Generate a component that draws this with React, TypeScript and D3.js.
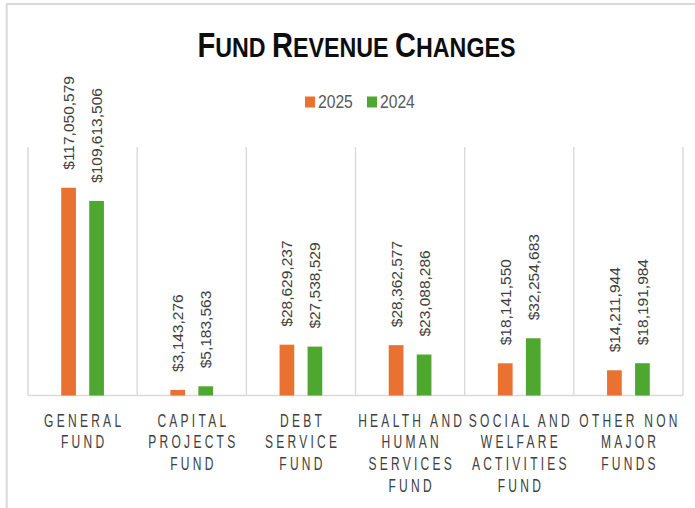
import { format, scaleBand, scaleLinear } from 'd3'

const categories = [
    'GENERAL FUND',
    'CAPITAL PROJECTS FUND',
    'DEBT SERVICE FUND',
    'HEALTH AND HUMAN SERVICES FUND',
    'SOCIAL AND WELFARE ACTIVITIES FUND',
    'OTHER NON MAJOR FUNDS'
]
const categoryLines = [
    ['GENERAL', 'FUND'],
    ['CAPITAL', 'PROJECTS', 'FUND'],
    ['DEBT', 'SERVICE', 'FUND'],
    ['HEALTH AND', 'HUMAN', 'SERVICES', 'FUND'],
    ['SOCIAL AND', 'WELFARE', 'ACTIVITIES', 'FUND'],
    ['OTHER NON', 'MAJOR', 'FUNDS']
]
const revenue2025 = [117050579, 3143276, 28629237, 28362577, 18141550, 14211944]
const revenue2024 = [109613506, 5183563, 27538529, 23088286, 32254683, 18191984]
const seriesNames = ['2025', '2024']
const seriesColors = ['#E97132', '#4EA72E']

const width = 695
const height = 508
const margin = { top: 147, right: 12, bottom: 112.5, left: 28 }
const font = '"Liberation Sans", Arial, sans-serif'
const fmt = format('$,')

export default function App() {
    const series = [revenue2025, revenue2024]

    const x = scaleBand()
        .domain(categories)
        .range([margin.left, width - margin.right])
        .padding(0)

    const bw = x.bandwidth()
    const xs = scaleBand()
        .domain(seriesNames)
        .range([bw / 2 - 28, bw / 2 + 28])
        .paddingInner(0.475)
        .paddingOuter(0.2375)

    const y = scaleLinear()
        .domain([0, 140000000])
        .range([height - margin.bottom, margin.top])

    const baseY = y(0)
    const bounds = [...categories.map(c => x(c)), x(categories[categories.length - 1]) + bw]

    const titleParts = [
        ['F', 35], ['UND ', 28], ['R', 35], ['EVENUE ', 28], ['C', 35], ['HANGES', 28]
    ]

    const legendX0 = 305
    const legendStep = 62
    const labelSpacing = 5

    return (
        <svg width={width} height={height} style={{ position: 'absolute', left: 0, top: 0, display: 'block', background: '#fff' }}>
            <rect x={6.7} y={4} width={width + 20} height={height + 20} fill="#fff" stroke="#d9d9d9" strokeWidth={2} />

            <text transform={`translate(356.5,56.7) scale(0.83,1)`} textAnchor="middle"
                fontFamily={font} fontWeight="bold" fill="#0d0d0d">
                {titleParts.map(([t, s], i) => (
                    <tspan key={i} fontSize={s}>{t}</tspan>
                ))}
            </text>

            {seriesNames.map((name, i) => (
                <g key={name} transform={`translate(${legendX0 + i * legendStep},0)`}>
                    <rect x={0} y={96.5} width={10} height={11} fill={seriesColors[i]} />
                    <text transform="translate(13,108.3) scale(0.87,1)" fontFamily={font} fontSize={18} fill="#595959">{name}</text>
                </g>
            ))}

            {bounds.map((bx, i) => (
                <line key={i} x1={bx} x2={bx} y1={margin.top} y2={baseY} stroke="#d9d9d9" strokeWidth={1.4} />
            ))}
            <line x1={margin.left} x2={width - margin.right} y1={baseY} y2={baseY} stroke="#d9d9d9" strokeWidth={1.6} />

            {categories.map((c, ci) => (
                <g key={c} transform={`translate(${x(c)},0)`}>
                    {series.map((vals, si) => {
                        const bx = xs(seriesNames[si])
                        const top = y(vals[ci])
                        const cx = bx + xs.bandwidth() / 2
                        return (
                            <g key={si}>
                                <rect x={bx} y={top} width={xs.bandwidth()} height={baseY - top} fill={seriesColors[si]} />
                                <text transform={`translate(${cx},${top - 18}) rotate(-90)`} dy="0.35em"
                                    fontFamily={font} fontSize={15.5} fill="#404040">{fmt(vals[ci])}</text>
                            </g>
                        )
                    })}
                </g>
            ))}

            {categories.map((c, ci) => (
                <g key={c} transform={`translate(${x(c) + bw / 2},0)`}>
                    {categoryLines[ci].map((line, li) => (
                        <text key={li} transform={`translate(0,${426.7 + li * 21.7}) scale(0.65,1)`}
                            x={labelSpacing / 2}
                            textAnchor="middle" fontFamily={font} fontSize={18.5} letterSpacing={labelSpacing} fill="#404040">
                            {line}
                        </text>
                    ))}
                </g>
            ))}
        </svg>
    )
}
